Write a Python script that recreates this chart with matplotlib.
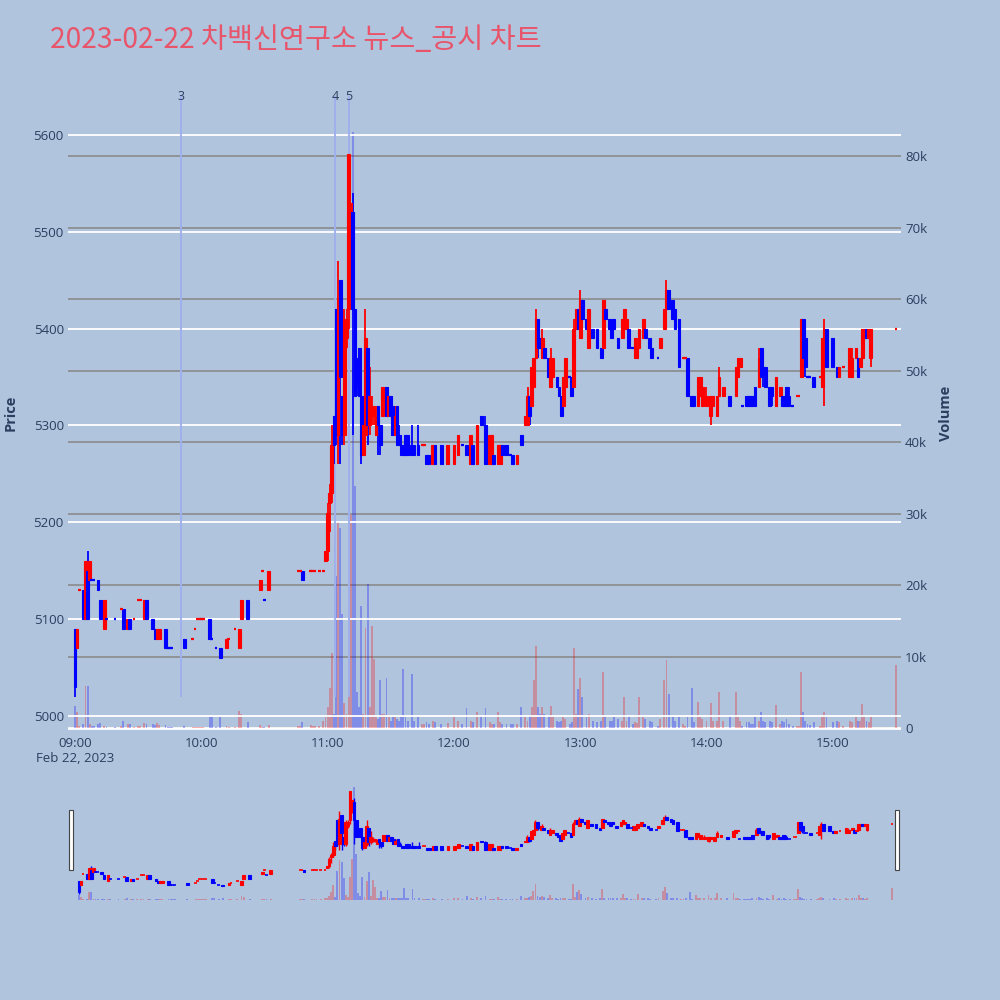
import matplotlib
matplotlib.use("Agg")
import matplotlib.pyplot as plt
from matplotlib.patches import Rectangle
import matplotlib.transforms as mtransforms

# ---------------- data (minutes after 09:00) ----------------
minute = [0, 1, 2, 4, 5, 6, 7, 8, 9, 11, 12, 14, 15, 19, 22, 23, 25, 26, 28, 30,
          31, 33, 34, 37, 38, 39, 40, 43, 44, 45, 46, 52, 56, 57, 58, 59, 60, 61, 64, 65,
          67, 69, 72, 73, 76, 78, 79, 82, 88, 89, 90, 92, 106, 107, 108, 112, 113, 114, 116, 118,
          119, 120, 121, 122, 123, 124, 125, 126, 127, 128, 129, 130, 131, 132, 133, 134, 135, 136, 137, 138,
          139, 140, 141, 142, 143, 144, 145, 146, 147, 148, 149, 150, 151, 152, 153, 154, 155, 156, 157, 158,
          160, 161, 163, 165, 166, 167, 168, 170, 171, 174, 177, 180, 182, 184, 186, 188, 189, 191, 193, 195,
          197, 198, 199, 201, 202, 203, 205, 207, 208, 210, 212, 214, 215, 216, 217, 218, 219, 220, 221, 222,
          223, 225, 226, 227, 229, 230, 231, 232, 233, 235, 236, 237, 238, 239, 240, 241, 243, 244, 246, 248,
          250, 251, 252, 254, 255, 256, 258, 260, 261, 262, 263, 265, 266, 267, 268, 270, 271, 273, 274, 277,
          278, 280, 281, 282, 284, 285, 287, 289, 290, 291, 293, 294, 296, 297, 298, 300, 302, 303, 305, 306,
          308, 311, 314, 315, 316, 317, 319, 320, 321, 322, 323, 325, 326, 327, 328, 330, 331, 333, 335, 336,
          337, 338, 339, 341, 343, 344, 345, 346, 347, 348, 349, 351, 354, 355, 356, 357, 360, 362, 363, 365,
          368, 369, 371, 372, 373, 374, 375, 376, 377, 378, 390]

open_ = [5090, 5070, 5130, 5130, 5100, 5150, 5140, 5140, 5140, 5140, 5120, 5090, 5100, 5100, 5110, 5110, 5090, 5100, 5100, 5120,
         5120, 5100, 5120, 5100, 5090, 5080, 5080, 5090, 5070, 5070, 5070, 5080, 5080, 5090, 5100, 5100, 5100, 5100, 5100, 5080,
         5070, 5070, 5070, 5080, 5090, 5070, 5100, 5120, 5130, 5150, 5120, 5130, 5150, 5150, 5150, 5150, 5150, 5150, 5150, 5150,
         5160, 5170, 5220, 5230, 5310, 5420, 5290, 5450, 5330, 5290, 5390, 5420, 5470, 5520, 5420, 5370, 5380, 5330, 5270, 5290,
         5380, 5300, 5310, 5310, 5290, 5320, 5300, 5310, 5320, 5340, 5310, 5330, 5320, 5290, 5320, 5290, 5280, 5280, 5290, 5290,
         5280, 5280, 5280, 5280, 5280, 5270, 5270, 5260, 5280, 5280, 5260, 5260, 5270, 5280, 5280, 5260, 5280, 5260, 5310, 5300,
         5260, 5260, 5270, 5260, 5260, 5280, 5280, 5270, 5270, 5260, 5290, 5300, 5300, 5330, 5320, 5340, 5370, 5410, 5390, 5370,
         5380, 5370, 5340, 5350, 5350, 5340, 5330, 5320, 5340, 5350, 5350, 5340, 5400, 5420, 5390, 5430, 5410, 5380, 5400, 5400,
         5380, 5380, 5420, 5410, 5400, 5410, 5390, 5390, 5400, 5400, 5400, 5380, 5370, 5370, 5380, 5390, 5400, 5390, 5380, 5370,
         5380, 5400, 5420, 5440, 5430, 5420, 5410, 5370, 5370, 5370, 5330, 5330, 5320, 5330, 5320, 5320, 5310, 5320, 5310, 5330,
         5330, 5330, 5330, 5350, 5360, 5320, 5330, 5330, 5330, 5330, 5340, 5340, 5380, 5360, 5360, 5340, 5340, 5320, 5330, 5330,
         5330, 5340, 5330, 5320, 5330, 5330, 5350, 5410, 5390, 5350, 5350, 5350, 5350, 5340, 5380, 5400, 5390, 5360, 5350, 5360,
         5350, 5350, 5370, 5370, 5360, 5370, 5390, 5400, 5390, 5370, 5400]

high = [5090, 5090, 5130, 5130, 5160, 5170, 5160, 5140, 5140, 5140, 5120, 5120, 5100, 5100, 5110, 5110, 5100, 5100, 5100, 5120,
        5120, 5120, 5120, 5100, 5090, 5090, 5090, 5090, 5070, 5070, 5070, 5080, 5080, 5090, 5100, 5100, 5100, 5100, 5100, 5080,
        5070, 5070, 5080, 5080, 5090, 5090, 5120, 5120, 5140, 5150, 5120, 5150, 5150, 5150, 5150, 5150, 5150, 5150, 5150, 5150,
        5170, 5220, 5240, 5300, 5310, 5420, 5470, 5450, 5330, 5420, 5420, 5580, 5530, 5540, 5420, 5370, 5380, 5330, 5310, 5420,
        5380, 5360, 5330, 5320, 5320, 5320, 5300, 5340, 5340, 5340, 5330, 5330, 5320, 5320, 5320, 5300, 5280, 5280, 5290, 5290,
        5300, 5280, 5300, 5280, 5280, 5270, 5270, 5280, 5280, 5280, 5280, 5280, 5290, 5280, 5280, 5290, 5280, 5300, 5310, 5310,
        5290, 5290, 5270, 5280, 5280, 5280, 5280, 5270, 5270, 5270, 5290, 5310, 5340, 5330, 5360, 5370, 5420, 5410, 5390, 5400,
        5380, 5370, 5380, 5370, 5350, 5340, 5330, 5350, 5370, 5350, 5350, 5410, 5420, 5420, 5440, 5430, 5410, 5420, 5400, 5400,
        5380, 5430, 5420, 5410, 5400, 5410, 5390, 5410, 5420, 5410, 5400, 5380, 5390, 5390, 5400, 5410, 5400, 5390, 5380, 5370,
        5390, 5420, 5450, 5440, 5430, 5420, 5410, 5370, 5370, 5370, 5330, 5330, 5350, 5350, 5340, 5340, 5330, 5330, 5330, 5360,
        5340, 5330, 5360, 5370, 5370, 5320, 5330, 5330, 5330, 5330, 5340, 5380, 5380, 5360, 5360, 5340, 5340, 5350, 5340, 5330,
        5330, 5340, 5340, 5320, 5330, 5330, 5410, 5410, 5390, 5350, 5350, 5350, 5350, 5390, 5410, 5400, 5390, 5360, 5360, 5360,
        5380, 5380, 5380, 5370, 5370, 5400, 5400, 5400, 5400, 5400, 5400]

low = [5020, 5070, 5130, 5100, 5100, 5100, 5140, 5140, 5140, 5130, 5100, 5090, 5100, 5100, 5110, 5090, 5090, 5090, 5100, 5120,
       5120, 5100, 5100, 5090, 5080, 5080, 5080, 5070, 5070, 5070, 5070, 5070, 5080, 5090, 5100, 5100, 5100, 5100, 5080, 5080,
       5070, 5060, 5070, 5080, 5090, 5070, 5100, 5100, 5130, 5150, 5120, 5130, 5150, 5150, 5140, 5150, 5150, 5150, 5150, 5150,
       5160, 5160, 5190, 5220, 5260, 5280, 5260, 5260, 5280, 5280, 5380, 5400, 5460, 5290, 5330, 5330, 5330, 5260, 5270, 5280,
       5280, 5290, 5300, 5300, 5290, 5270, 5270, 5310, 5310, 5310, 5310, 5310, 5290, 5290, 5280, 5280, 5270, 5270, 5270, 5270,
       5270, 5270, 5270, 5280, 5280, 5260, 5260, 5260, 5260, 5260, 5260, 5260, 5270, 5280, 5270, 5260, 5260, 5260, 5300, 5260,
       5260, 5260, 5260, 5260, 5260, 5270, 5270, 5270, 5260, 5260, 5280, 5300, 5300, 5300, 5320, 5340, 5370, 5370, 5380, 5370,
       5370, 5350, 5340, 5350, 5340, 5330, 5310, 5320, 5340, 5350, 5330, 5340, 5400, 5400, 5390, 5410, 5400, 5380, 5390, 5380,
       5370, 5380, 5410, 5400, 5390, 5400, 5380, 5390, 5400, 5400, 5380, 5380, 5370, 5370, 5380, 5390, 5390, 5380, 5370, 5370,
       5380, 5400, 5420, 5420, 5410, 5400, 5360, 5370, 5370, 5330, 5320, 5320, 5320, 5330, 5320, 5320, 5300, 5320, 5310, 5330,
       5330, 5320, 5330, 5350, 5360, 5320, 5320, 5320, 5320, 5320, 5320, 5340, 5350, 5340, 5340, 5320, 5320, 5320, 5330, 5320,
       5320, 5320, 5320, 5320, 5330, 5330, 5350, 5370, 5350, 5350, 5350, 5340, 5350, 5340, 5320, 5360, 5360, 5350, 5350, 5360,
       5350, 5350, 5370, 5350, 5360, 5370, 5390, 5390, 5390, 5360, 5400]

close = [5030, 5090, 5130, 5100, 5160, 5100, 5160, 5140, 5140, 5130, 5100, 5120, 5100, 5100, 5110, 5090, 5100, 5090, 5100, 5120,
         5120, 5120, 5100, 5090, 5080, 5090, 5090, 5070, 5070, 5070, 5070, 5070, 5080, 5090, 5100, 5100, 5100, 5100, 5080, 5080,
         5070, 5060, 5080, 5080, 5090, 5090, 5120, 5100, 5140, 5150, 5120, 5150, 5150, 5150, 5140, 5150, 5150, 5150, 5150, 5150,
         5170, 5210, 5230, 5280, 5280, 5290, 5430, 5350, 5290, 5410, 5410, 5580, 5530, 5420, 5330, 5340, 5330, 5270, 5300, 5390,
         5300, 5330, 5320, 5320, 5310, 5300, 5280, 5340, 5330, 5310, 5330, 5310, 5290, 5310, 5280, 5280, 5270, 5270, 5270, 5270,
         5270, 5270, 5270, 5280, 5280, 5260, 5260, 5280, 5260, 5260, 5280, 5280, 5290, 5280, 5270, 5290, 5260, 5300, 5300, 5260,
         5290, 5290, 5260, 5280, 5280, 5270, 5270, 5270, 5260, 5270, 5280, 5310, 5330, 5310, 5360, 5370, 5410, 5380, 5380, 5390,
         5370, 5350, 5370, 5370, 5340, 5330, 5310, 5350, 5370, 5350, 5330, 5400, 5420, 5400, 5430, 5410, 5400, 5420, 5390, 5380,
         5370, 5430, 5410, 5400, 5390, 5400, 5380, 5410, 5420, 5410, 5380, 5380, 5390, 5380, 5400, 5410, 5390, 5380, 5370, 5370,
         5390, 5420, 5440, 5420, 5410, 5400, 5360, 5370, 5370, 5330, 5320, 5320, 5350, 5350, 5340, 5330, 5330, 5330, 5330, 5350,
         5340, 5320, 5360, 5370, 5370, 5320, 5320, 5320, 5320, 5320, 5320, 5370, 5350, 5350, 5340, 5320, 5330, 5350, 5340, 5320,
         5320, 5320, 5320, 5320, 5330, 5330, 5410, 5370, 5360, 5350, 5350, 5340, 5350, 5390, 5400, 5360, 5360, 5350, 5360, 5360,
         5380, 5370, 5380, 5350, 5370, 5400, 5400, 5390, 5400, 5400, 5400]

volume = [3100, 2300, 300, 500, 5900, 5900, 600, 300, 300, 600, 700, 300, 200, 200, 300, 1000, 500, 600, 200, 300,
          300, 700, 600, 500, 400, 700, 400, 400, 200, 200, 200, 300, 200, 200, 100, 100, 100, 100, 1500, 1500,
          200, 1500, 300, 200, 200, 2400, 2000, 800, 400, 200, 200, 400, 300, 300, 800, 400, 300, 300, 300, 1000,
          1500, 3000, 5600, 10500, 2000, 21300, 29000, 28000, 16000, 3500, 2000, 16600, 29800, 83400, 33900, 5000, 3000, 17000, 2000, 14000,
          20200, 3000, 14300, 9600, 1500, 1200, 6700, 2000, 2000, 7000, 1500, 1000, 1500, 1500, 1200, 1000, 1500, 8300, 1500, 1000,
          7500, 1000, 1500, 500, 500, 800, 500, 1000, 800, 600, 700, 1500, 1000, 500, 2800, 1000, 800, 2200, 1500, 2800,
          800, 600, 500, 2200, 800, 600, 600, 500, 500, 600, 3000, 1500, 1000, 1800, 3000, 6700, 11400, 3000, 2000, 3000,
          2000, 1500, 3100, 1500, 1000, 800, 1000, 1500, 1200, 500, 800, 11200, 2000, 5500, 7000, 4400, 1500, 2000, 1000, 800,
          1000, 7900, 1500, 1000, 1000, 1500, 1200, 1000, 4400, 1000, 1500, 500, 800, 700, 4400, 1500, 1200, 1000, 800, 300,
          1200, 6700, 9500, 4800, 1500, 1000, 1500, 500, 300, 1500, 5600, 800, 3700, 1500, 1200, 1000, 3500, 1000, 1000, 5000,
          1000, 1500, 5000, 1500, 1000, 300, 800, 800, 600, 600, 1500, 1000, 2200, 1000, 800, 1000, 800, 3200, 500, 1000,
          800, 1200, 600, 300, 300, 300, 7900, 2200, 1000, 500, 400, 800, 300, 1500, 2200, 1500, 800, 1000, 800, 300,
          1000, 800, 1500, 1000, 1000, 3400, 1500, 1000, 800, 1500, 8800]

hour_ticks = [0, 60, 120, 180, 240, 300, 360]
hour_labels = ["09:00\nFeb 22, 2023", "10:00", "11:00", "12:00", "13:00", "14:00", "15:00"]
price_ticks = [5000, 5100, 5200, 5300, 5400, 5500, 5600]
volume_ticks = [0, 10000, 20000, 30000, 40000, 50000, 60000, 70000, 80000]
volume_labels = ["0", "10k", "20k", "30k", "40k", "50k", "60k", "70k", "80k"]
event_minutes = [50.5, 123.5, 130.0]
event_labels = ["3", "4", "5"]
title = "2023-02-22 차백신연구소 뉴스_공시 차트"

# ---------------- style ----------------
BG = "#B0C4DE"
PLOT_BG = "#E5ECF6"
UP = "#FF0000"
DOWN = "#0000FF"
TXT = "#2A3F5F"
XLIM = (-3.3, 392.4)
PLIM = (4985.5, 5640.3)
VLIM = (-280, 88400)

plt.rcParams["font.family"] = ["Open Sans", "DejaVu Sans"]

# direction per candle (plotly rule: equal open/close compares with previous close)
inc = []
prev_c, prev_inc = None, True
for o, c in zip(open_, close):
    if c > o:
        d = True
    elif c < o:
        d = False
    else:
        d = prev_inc if (prev_c is None or c == prev_c) else c > prev_c
    inc.append(d)
    prev_c, prev_inc = c, d
cols = [UP if d else DOWN for d in inc]


def draw_candles(axp, axv, body_w, wick_lw, flat_lw):
    axv.bar(minute, volume, width=0.9, color=cols, alpha=0.28, linewidth=0, zorder=2)
    axp.vlines(minute, low, high, colors=cols, linewidth=wick_lw, zorder=3)
    fx, fy, fc = [], [], []
    bx, bb, bh, bc = [], [], [], []
    for m, o, c, col in zip(minute, open_, close, cols):
        if o == c:
            fx.append(m); fy.append(c); fc.append(col)
        else:
            bx.append(m); bb.append(min(o, c)); bh.append(abs(c - o)); bc.append(col)
    axp.bar(bx, bh, bottom=bb, width=body_w, color=bc, edgecolor=bc, linewidth=0.8, zorder=4)
    axp.hlines(fy, [x - body_w / 2 for x in fx], [x + body_w / 2 for x in fx],
               colors=fc, linewidth=flat_lw, zorder=4)


fig = plt.figure(figsize=(10, 10), dpi=100, facecolor=BG)

# ---------------- main chart ----------------
ax_p = fig.add_axes([0.068, 0.270, 0.833, 0.634])
ax_v = ax_p.twinx()
ax_v.set_zorder(1)
ax_p.set_zorder(2)
ax_p.patch.set_visible(False)
ax_v.patch.set_facecolor(PLOT_BG)

draw_candles(ax_p, ax_v, 1.3, 1.3, 1.6)

ax_p.set_xlim(*XLIM)
ax_p.set_ylim(*PLIM)
ax_v.set_ylim(*VLIM)

ax_p.set_yticks(price_ticks)
ax_p.set_yticklabels([str(t) for t in price_ticks])
ax_v.set_yticks(volume_ticks)
ax_v.set_yticklabels(volume_labels)
ax_p.set_xticks(hour_ticks)
ax_p.set_xticklabels(hour_labels, linespacing=1.25)

for a in (ax_p, ax_v):
    for s in a.spines.values():
        s.set_visible(False)
    a.tick_params(length=0, labelsize=9.5, labelcolor=TXT)
ax_p.tick_params(axis="y", pad=3)
ax_v.tick_params(axis="y", pad=3)
ax_p.tick_params(axis="x", pad=5)

ax_p.grid(axis="y", color="white", linewidth=1.3, zorder=0)
ax_p.set_axisbelow(True)
ax_v.grid(axis="y", color="#8A8A8A", linewidth=1.2, zorder=0)
ax_v.set_axisbelow(True)
ax_v.axhline(0, color="white", linewidth=2, zorder=1)

# event lines
ax_p.vlines(event_minutes, 5020, PLIM[1], colors="#9FB0EE", linewidth=1.4, zorder=2.5)
trans = mtransforms.blended_transform_factory(ax_p.transData, ax_p.transAxes)
for m, lab in zip(event_minutes, event_labels):
    ax_p.text(m, 1.0, lab, transform=trans, ha="center", va="center",
              fontsize=9, color=TXT, zorder=6)

ax_p.set_ylabel("Price", fontsize=10.5, color=TXT, fontweight="bold")
ax_v.set_ylabel("Volume", fontsize=10.5, color=TXT, fontweight="bold")
ax_p.yaxis.set_label_coords(-0.061, 0.5)
ax_v.yaxis.set_label_coords(1.046, 0.5)

# ---------------- range slider ----------------
sl_p = fig.add_axes([0.072, 0.100, 0.825, 0.120])
sl_v = sl_p.twinx()
sl_v.set_zorder(1)
sl_p.set_zorder(2)
sl_p.patch.set_visible(False)
sl_v.patch.set_facecolor(PLOT_BG)
draw_candles(sl_p, sl_v, 1.3, 1.0, 1.2)
sl_p.set_xlim(*XLIM)
sl_p.set_ylim(*PLIM)
sl_v.set_ylim(*VLIM)
for a in (sl_p, sl_v):
    a.set_xticks([])
    a.set_yticks([])
    for s in a.spines.values():
        s.set_visible(False)

for x0 in (0.0686, 0.895):
    fig.patches.append(Rectangle((x0, 0.130), 0.004, 0.060, transform=fig.transFigure,
                                 facecolor="white", edgecolor="#444444", linewidth=0.8, zorder=10))

# ---------------- title ----------------
fig.text(0.05, 0.960, title, fontsize=20.4, color="#E8556B", va="center", ha="left",
         family=["Noto Sans CJK KR", "DejaVu Sans"])

fig.savefig("out.png", dpi=100, facecolor=BG)
